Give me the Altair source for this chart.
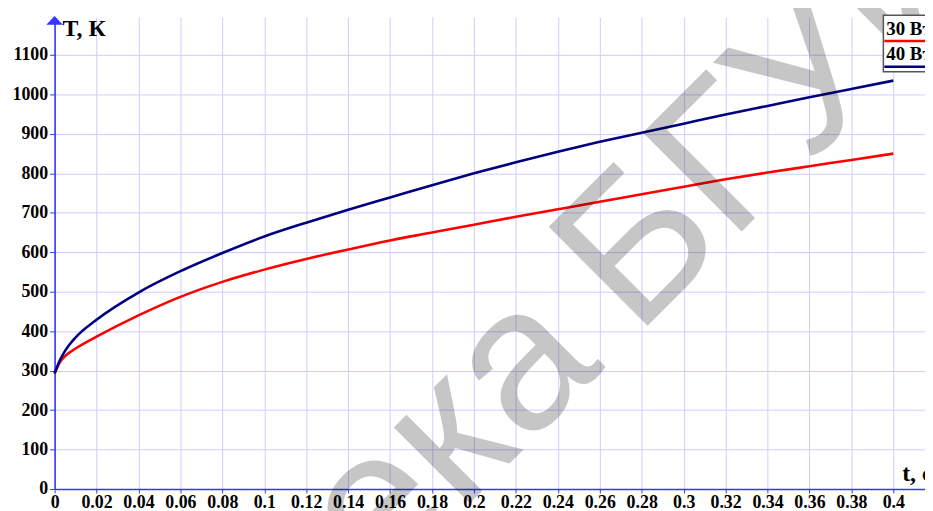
import altair as alt
import pandas as pd

# ---- data ----
t_vals = [0, 0.0025, 0.005, 0.01, 0.02, 0.04, 0.06, 0.08, 0.1, 0.12, 0.14, 0.16,
          0.18, 0.2, 0.22, 0.24, 0.26, 0.28, 0.3, 0.32, 0.34, 0.36, 0.38, 0.4]
T_30 = [293, 321, 337, 356, 386, 440, 487, 525, 556, 583, 607, 630,
        650, 670, 690, 709, 728, 747, 766, 785, 802, 818, 834, 850]
T_40 = [293, 326, 350, 384, 429, 498, 552, 598, 640, 675, 708, 739,
        770, 800, 828, 855, 880, 903, 926, 949, 971, 993, 1014, 1035]
series_names = ["30 Вт", "40 Вт"]
series_colors = ["#ff0000", "#000080"]
x_ticks = [round(i * 0.02, 2) for i in range(21)]
y_ticks = list(range(0, 1200, 100))
y_title = "T, К"
x_title = "t, с"
wm_words = ["Библиотека", "БГУИР"]
wm_t = [0.2629, 0.2771]
wm_T = [309, 384]

rows = []
for name, vals in zip(series_names, [T_30, T_40]):
    for tt, v in zip(t_vals, vals):
        rows.append({"t": tt, "T": v, "series": name})
df = pd.DataFrame(rows)

W, H = 878, 476
AX = "#3535ff"
GRID = "#ccccff"
SERIF = "Liberation Serif"

xs = alt.Scale(domain=[0, 0.4151], nice=False, zero=False)
ys = alt.Scale(domain=[0, 1196], nice=False, zero=False)

x_axis = alt.Axis(values=x_ticks, format="~g", title="", grid=True, gridColor=GRID,
                  gridWidth=1, domainColor=AX, domainWidth=1.6, tickColor=AX, tickSize=4,
                  labelFont=SERIF, labelFontWeight="bold", labelFontSize=18,
                  labelColor="black", labelPadding=1, labelFlush=False, labelOverlap=False)
y_axis = alt.Axis(values=y_ticks, format="d", title="", grid=True, gridColor=GRID,
                  gridWidth=1, domainColor=AX, domainWidth=1.6, tickColor=AX, tickSize=5,
                  labelFont=SERIF, labelFontWeight="bold", labelFontSize=18,
                  labelColor="black", labelPadding=2, labelFlush=False, labelOverlap=False)

lines = alt.Chart(df).mark_line(strokeWidth=2.6, interpolate="monotone").encode(
    x=alt.X("t:Q", scale=xs, axis=x_axis),
    y=alt.Y("T:Q", scale=ys, axis=y_axis),
    color=alt.Color("series:N", scale=alt.Scale(domain=series_names, range=series_colors),
                    legend=None),
)

wm_df = pd.DataFrame({"word": wm_words, "t": wm_t, "T": wm_T})
wm_left = alt.Chart(wm_df.iloc[[0]]).mark_text(
    font="Liberation Sans", fontSize=205, angle=315, align="right", baseline="alphabetic",
    color="black", opacity=0.22).encode(x=alt.X("t:Q", scale=xs), y=alt.Y("T:Q", scale=ys),
                                        text="word:N")
wm_right = alt.Chart(wm_df.iloc[[1]]).mark_text(
    font="Liberation Sans", fontSize=205, angle=315, align="left", baseline="alphabetic",
    color="black", opacity=0.22).encode(x=alt.X("t:Q", scale=xs), y=alt.Y("T:Q", scale=ys),
                                        text="word:N")

one = pd.DataFrame({"k": [0]})
arrow = alt.Chart(one).mark_point(shape="M-1,0.5L1,0.5L0,-0.55Z", size=280, filled=True,
                                  color=AX, opacity=1).encode(
    x=alt.value(0), y=alt.value(3.5))
ytitle = alt.Chart(one).mark_text(text=y_title, font=SERIF, fontWeight="bold", fontSize=24,
                                  align="left", baseline="alphabetic", color="black").encode(
    x=alt.value(8), y=alt.value(19))
xtitle = alt.Chart(one).mark_text(text=x_title, font=SERIF, fontWeight="bold", fontSize=24,
                                  align="left", baseline="alphabetic", color="black").encode(
    x=alt.value(855), y=alt.value(468))

leg_box = alt.Chart(one).mark_rect(fill="white", stroke="#555555", strokeWidth=1.5).encode(
    x=alt.value(836), x2=alt.value(900), y=alt.value(-2), y2=alt.value(55))
leg_layers = []
for i, (name, col) in enumerate(zip(series_names, series_colors)):
    leg_layers.append(alt.Chart(one).mark_text(
        text=name, font=SERIF, fontWeight="bold", fontSize=19, align="left",
        baseline="alphabetic", color="black").encode(
        x=alt.value(839), y=alt.value(18 + 25 * i)))
    leg_layers.append(alt.Chart(one).mark_rule(color=col, strokeWidth=2.5).encode(
        x=alt.value(837), x2=alt.value(900), y=alt.value(24 + 26 * i)))

chart = alt.layer(lines, wm_left, wm_right, arrow, ytitle, xtitle,
                  leg_box, *leg_layers).properties(
    width=W, height=H,
    autosize=alt.AutoSizeParams(type="none"),
    padding={"left": 47, "top": 7, "right": 0, "bottom": 20},
    background="white",
).configure_view(stroke="transparent")

chart.save("out.html", embed_options={"renderer": "svg", "actions": False})
